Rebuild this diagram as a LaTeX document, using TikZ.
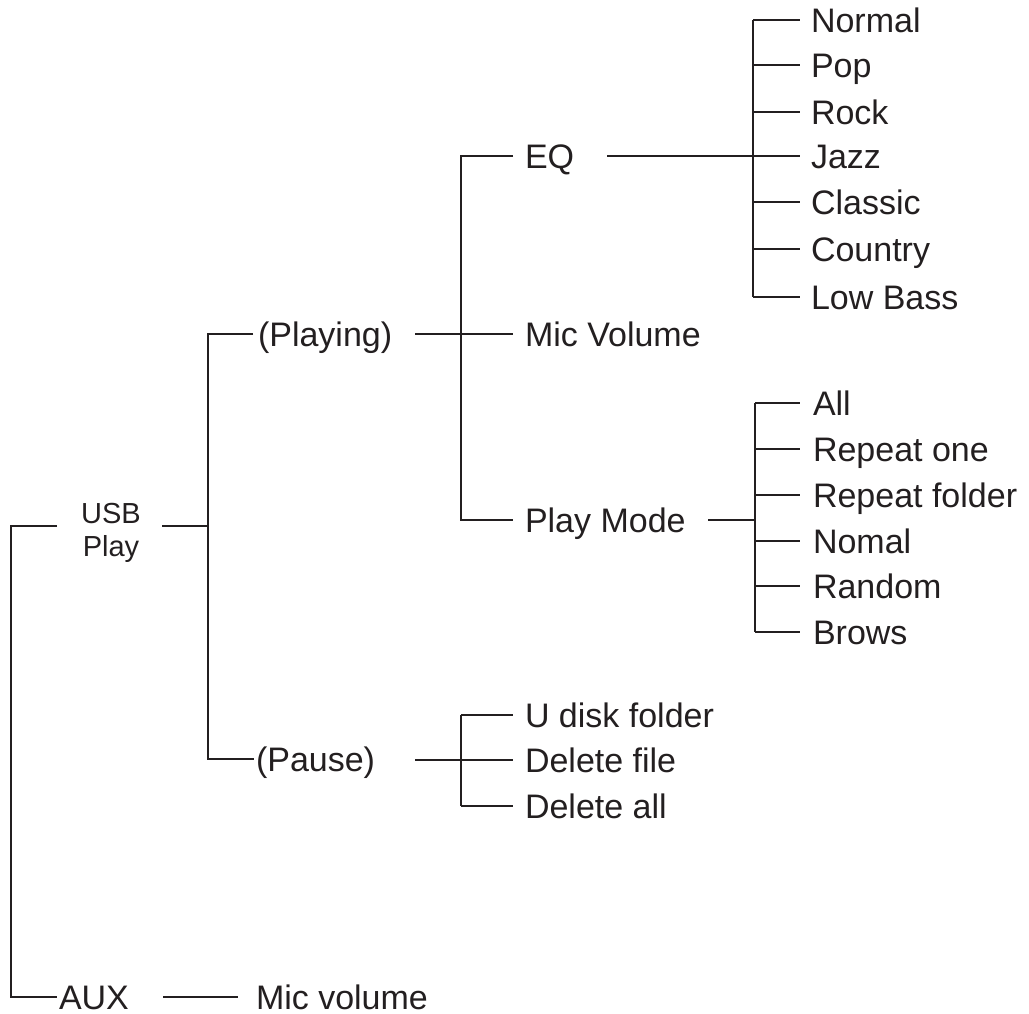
\documentclass[tikz,border=0pt]{standalone}
\usepackage{fontspec}
\setmainfont{Liberation Sans}
\definecolor{ink}{RGB}{35,31,32}
\begin{document}
\begin{tikzpicture}[x=1pt,y=-1pt,
  lbl/.style={anchor=west,inner sep=0pt,outer sep=0pt,text=ink,
    font=\fontsize{34}{40}\selectfont,text height=24.3pt,text depth=0pt},
  usbstyle/.style={inner sep=0pt,outer sep=0pt,text=ink,align=center,
    font=\fontsize{29}{33}\selectfont},
  conn/.style={draw=ink,line width=1.9pt}]
\useasboundingbox (0,0) rectangle (1029,1014);
% nodes
\node[usbstyle] (usb) at (111,533) {USB\\Play};
\node[lbl] (playing) at (258,334) {(Playing)};
\node[lbl] (pause) at (256,759) {(Pause)};
\node[lbl] (aux) at (59,997) {AUX};
\node[lbl] (auxmic) at (256,997) {Mic volume};
\node[lbl] (eq) at (525,156) {EQ};
\node[lbl] (micv) at (525,334) {Mic Volume};
\node[lbl] (pmode) at (525,520) {Play Mode};
\node[lbl] (udisk) at (525,715) {U disk folder};
\node[lbl] (delf) at (525,760) {Delete file};
\node[lbl] (dela) at (525,806) {Delete all};
% EQ leaves
\node[lbl] (normal) at (811,20) {Normal};
\node[lbl] (pop) at (811,65) {Pop};
\node[lbl] (rock) at (811,112) {Rock};
\node[lbl] (jazz) at (811,156) {Jazz};
\node[lbl] (classic) at (811,202) {Classic};
\node[lbl] (country) at (811,249) {Country};
\node[lbl] (lowbass) at (811,297) {Low Bass};
% Play mode leaves
\node[lbl] (all) at (813,403) {All};
\node[lbl] (rone) at (813,449) {Repeat one};
\node[lbl] (rfolder) at (813,495) {Repeat folder};
\node[lbl] (nomal) at (813,541) {Nomal};
\node[lbl] (random) at (813,586) {Random};
\node[lbl] (brows) at (813,632) {Brows};
% junctions and stub starts
\coordinate (usbin) at (57,526);
\coordinate (trunk) at (11,526);
\coordinate (usbout) at (162,526);
\coordinate (j1) at (208,526);
\coordinate (pout) at (415,334);
\coordinate (j2) at (461,334);
\coordinate (eqout) at (607,156);
\coordinate (j3) at (753,156);
\coordinate (pmout) at (708,520);
\coordinate (j4) at (755,520);
\coordinate (pauseout) at (415,760);
\coordinate (j5) at (461,760);
\coordinate (auxout) at (163,997);
% connectors
\draw[conn] (usbin) -- (trunk) |- ([xshift=-2pt]aux.west);
\draw[conn] (usbout) -- (j1);
\draw[conn] ([xshift=-5pt]playing.west) -| (j1) |- ([xshift=-2pt]pause.west);
\draw[conn] (pout) -- ([xshift=-12pt]micv.west);
\draw[conn] ([xshift=-12pt]eq.west) -| (j2) |- ([xshift=-12pt]pmode.west);
\draw[conn] (eqout) -- (j3);
\draw[conn] (j3 |- normal.west) -- (j3 |- lowbass.west);
\foreach \n in {normal,pop,rock,jazz,classic,country,lowbass}
  \draw[conn] (j3 |- \n.west) -- ([xshift=-11pt]\n.west);
\draw[conn] (pmout) -- (j4);
\draw[conn] (j4 |- all.west) -- (j4 |- brows.west);
\foreach \n in {all,rone,rfolder,nomal,random,brows}
  \draw[conn] (j4 |- \n.west) -- ([xshift=-13pt]\n.west);
\draw[conn] (pauseout) -- ([xshift=-12pt]delf.west);
\draw[conn] (j5 |- udisk.west) -- (j5 |- dela.west);
\foreach \n in {udisk,delf,dela}
  \draw[conn] (j5 |- \n.west) -- ([xshift=-12pt]\n.west);
\draw[conn] (auxout) -- ([xshift=-18pt]auxmic.west);
\end{tikzpicture}
\end{document}
